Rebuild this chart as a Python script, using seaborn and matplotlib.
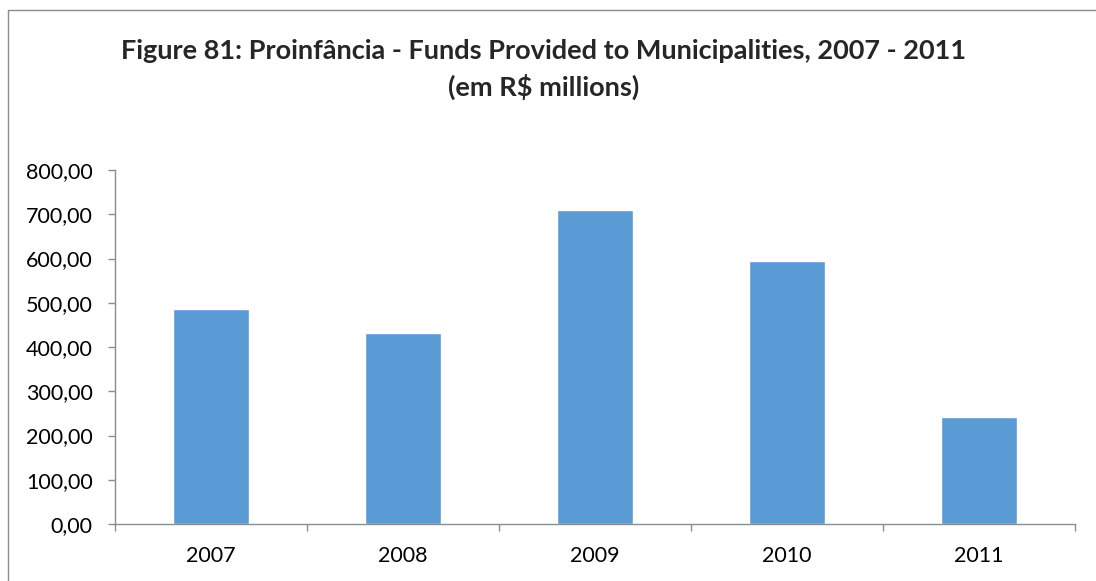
import matplotlib
matplotlib.use("Agg")
import matplotlib.pyplot as plt
import seaborn as sns
import numpy as np
import pandas as pd
from matplotlib.lines import Line2D
from matplotlib.ticker import FuncFormatter, FixedLocator

years = ["2007", "2008", "2009", "2010", "2011"]
funds = [486, 432, 710, 594, 242]
yticks = [0, 100, 200, 300, 400, 500, 600, 700, 800]

sns.set_style("white")
plt.rcParams['font.family'] = ['Lato', 'DejaVu Sans']

fig = plt.figure(figsize=(10.96, 5.81), dpi=100)
ax = fig.add_axes([115/1096, 1-524/581, (1075-115)/1096, (524-170)/581])

df = pd.DataFrame({"year": years, "funds": funds})
sns.barplot(data=df, x="year", y="funds", color="#5B9BD5", width=0.4,
            saturation=1, ax=ax)

ax.set_xlim(-0.5, len(years) - 0.5)
ax.set_ylim(0, 800)
ax.set_yticks(yticks)
ax.yaxis.set_major_formatter(FuncFormatter(lambda v, p: f"{v:.2f}".replace(".", ",")))
ax.set_xlabel("")
ax.set_ylabel("")

gray = "#8c8c8c"
for s in ["top", "right"]:
    ax.spines[s].set_visible(False)
for s in ["left", "bottom"]:
    ax.spines[s].set_visible(True)
    ax.spines[s].set_color(gray)
    ax.spines[s].set_linewidth(1)

ax.tick_params(axis="y", which="major", length=5, color=gray, width=1,
               labelsize=15.5, pad=11, labelcolor="black", left=True)
ax.tick_params(axis="x", which="major", length=0, labelsize=15.5, pad=16,
               labelcolor="black")
ax.xaxis.set_minor_locator(FixedLocator(np.arange(-0.5, len(years), 1.0)))
ax.tick_params(axis="x", which="minor", length=5, color=gray, width=1,
               bottom=True)

fig.text(544/1096, 1-51/581, "Figure 81: Proinfância - Funds Provided to Municipalities, 2007 - 2011",
         ha="center", va="center", fontsize=19.5, fontweight="bold")
fig.text(544/1096, 1-87/581, "(em R$ millions)",
         ha="center", va="center", fontsize=19.5, fontweight="bold")

# chart-area frame (top and left edges visible in the crop)
fig.add_artist(Line2D([8/1096, 1], [1-10/581, 1-10/581], transform=fig.transFigure,
                      color="#8c8c8c", lw=1))
fig.add_artist(Line2D([8/1096, 8/1096], [0, 1-10/581], transform=fig.transFigure,
                      color="#8c8c8c", lw=1))

fig.savefig("out.png", dpi=100)
